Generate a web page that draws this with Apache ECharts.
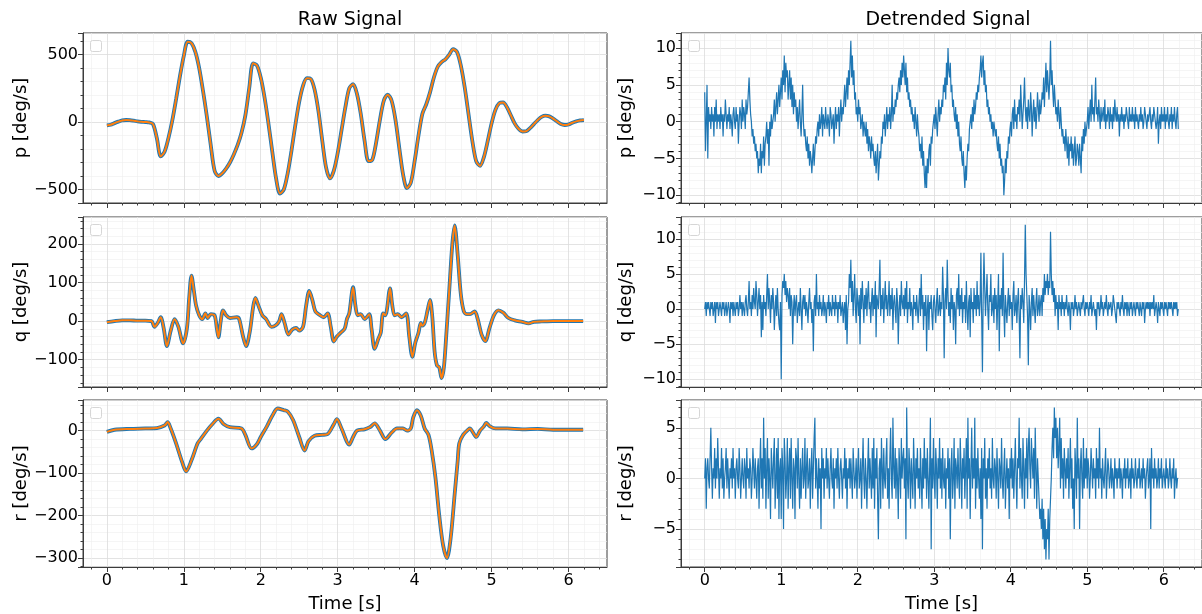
<!DOCTYPE html>
<html>
<head>
<meta charset="utf-8">
<script src="https://cdn.jsdelivr.net/npm/echarts@6.0.0/dist/echarts.min.js"></script>
<style>
html, body { margin: 0; padding: 0; background: #fff; }
#chart { width: 1202px; height: 614px; }
</style>
</head>
<body>
<div id="chart"></div>
<script>
// raw p, sampled every 0.05 s
var rawDt = 0.05;
var pRaw = [-25, -20, -8, 3, 12, 15, 14, 10, 5, 2,
    0, -3, -15, -120, -255, -220, -120, 10, 170, 340,
    490, 595, 585, 520, 400, 230, 40, -170, -360, -400,
    -380, -345, -300, -240, -170, -80, 50, 250, 435, 420,
    330, 180, -10, -220, -420, -530, -500, -380, -210, -20,
    150, 270, 325, 320, 240, 80, -140, -340, -418, -360,
    -230, -60, 110, 250, 280, 210, 60, -140, -290, -280,
    -150, 20, 160, 203, 160, 20, -190, -390, -490, -450,
    -290, -100, 60, 130, 220, 330, 410, 445, 465, 500,
    540, 520, 420, 260, 60, -140, -290, -325, -260, -140,
    -10, 90, 140, 145, 110, 50, -10, -50, -70, -68,
    -45, -15, 15, 38, 47, 42, 25, 5, -15, -22,
    -18, -5, 5, 12, 15];

// raw q, read at the turning points
var qTime = [0.00, 0.10, 0.20, 0.30, 0.40, 0.50, 0.58, 0.62, 0.66, 0.70, 0.74, 0.78, 0.83, 0.88, 0.93, 0.99,
    1.04, 1.07, 1.10, 1.13, 1.16, 1.20, 1.24, 1.28, 1.31, 1.35, 1.40, 1.43, 1.45, 1.48, 1.51, 1.55, 1.60,
    1.69, 1.72, 1.77, 1.81, 1.86, 1.90, 1.93, 1.97, 2.02, 2.07, 2.14, 2.20, 2.24, 2.27, 2.31, 2.36, 2.41,
    2.46, 2.50, 2.55, 2.59, 2.63, 2.67, 2.71, 2.77, 2.82, 2.87, 2.91, 2.95, 2.99, 3.04, 3.09, 3.12, 3.15,
    3.20, 3.23, 3.26, 3.30, 3.35, 3.41, 3.44, 3.48, 3.53, 3.56, 3.59, 3.62, 3.68, 3.71, 3.74, 3.78, 3.83,
    3.89, 3.93, 3.97, 4.01, 4.05, 4.08, 4.10, 4.13, 4.17, 4.20, 4.23, 4.26, 4.29, 4.32, 4.35, 4.38, 4.41,
    4.45, 4.49, 4.52, 4.56, 4.60, 4.64, 4.68, 4.72, 4.78, 4.82, 4.87, 4.92, 4.97, 5.03, 5.09, 5.15, 5.22,
    5.30, 5.40, 5.48, 5.55, 5.65, 5.80, 5.95, 6.10, 6.19];
var qRaw = [-3, 0, 2, 2, 1, 1, 0, -15, -5, 10, -20, -65, -25, 5, -15, -58,
    -20, 60, 118, 80, 40, 15, 5, 20, 8, 18, 15, -20, -42, 0, 28, 15, 8,
    10, 5, -40, -65, -25, 35, 60, 40, 15, 5, -15, -10, 0, 18, -5, -35, -22,
    -18, -25, -15, 40, 78, 55, 25, 15, 10, 20, -15, -53, -40, -30, -20, 5, 20,
    88, 40, 15, 18, 5, 18, -20, -72, -45, -30, 20, 15, 85, 40, 15, 18, 10,
    20, -40, -93, -55, -30, -5, -12, -5, 30, 55, 10, -80, -115, -120, -148, -120, -40,
    80, 200, 248, 170, 70, 25, 18, 18, 25, 5, -35, -52, -20, 15, 28, 22, 8,
    2, -2, -6, -2, -1, 0, 0, 0, 0];

// raw r, read at the turning points
var rTime = [0.00, 0.10, 0.30, 0.50, 0.65, 0.75, 0.79, 0.83, 0.90, 0.98, 1.03, 1.10, 1.18, 1.22, 1.30, 1.37,
    1.45, 1.52, 1.60, 1.75, 1.80, 1.88, 1.95, 2.00, 2.08, 2.15, 2.22, 2.30, 2.35, 2.42, 2.50, 2.57, 2.62,
    2.70, 2.80, 2.87, 2.95, 2.99, 3.05, 3.15, 3.20, 3.25, 3.35, 3.42, 3.48, 3.55, 3.62, 3.70, 3.77, 3.85,
    3.90, 3.95, 3.98, 4.03, 4.08, 4.13, 4.18, 4.22, 4.27, 4.32, 4.37, 4.42, 4.47, 4.52, 4.56, 4.58, 4.63,
    4.70, 4.72, 4.76, 4.80, 4.85, 4.90, 4.93, 4.98, 5.05, 5.20, 5.40, 5.60, 5.80, 6.00, 6.19];
var rRaw = [-3, 2, 4, 5, 6, 12, 20, 5, -30, -75, -96, -70, -30, -20, 0, 15,
    28, 15, 8, 5, -10, -42, -32, -15, 10, 35, 52, 48, 45, 25, -15, -47, -25,
    -12, -10, -8, 15, 27, 5, -33, -15, 0, 3, 8, 17, 0, -20, -5, 5, 5,
    0, 5, 30, 48, 35, 5, -10, -45, -110, -200, -270, -300, -250, -150, -70, -30, -10,
    3, 5, -5, -15, 0, 10, 18, 10, 5, 5, 3, 4, 2, 2, 2];

// detrended signals, sampled every 0.01 s (one row = 0.1 s)
var detDt = 0.01;
var pDet = [4, -4, 0, 5, -5, 2, 0, 1, -1, 2,
    0, 1, -2, 2, 0, 3, -1, 1, 0, 1,
    -1, 2, 0, 1, -2, 1, 0, 3, 1, -1,
    1, 0, 2, -1, 1, 0, -2, 1, 2, 0,
    -1, 2, 0, 1, -3, 0, 2, 1, -1, 3,
    0, 2, 1, -1, 3, 1, 2, 4, 6, 3,
    1, 0, -2, -1, -3, -2, -4, -3, -5, -4,
    -7, -5, -6, -3, -7, -4, -5, -2, -6, -3,
    -2, 0, -3, -1, -6, 0, -2, 1, -1, 0,
    1, 3, 0, 2, 4, 1, 3, 5, 2, 4,
    6, 3, 7, 5, 9, 4, 8, 6, 7, 3,
    5, 7, 3, 6, 2, 5, 1, 4, 2, 3,
    0, 2, -1, 1, 3, 0, -2, 1, 5, 0,
    -2, -1, -3, -4, -2, -5, -3, -6, -4, -5,
    -7, -5, -3, -6, -4, -2, -3, -1, 0, -2,
    1, -1, 0, 2, -2, 1, 0, -1, 2, 0,
    -1, 1, 0, -2, 2, 1, -1, 0, 1, -3,
    0, 2, -1, 1, 0, 2, -2, 1, 3, 0,
    2, 1, 3, 5, 2, 4, 6, 3, 7, 5,
    8, 11, 6, 9, 5, 7, 3, 4, 1, 2,
    0, 3, 1, 2, -1, 0, 1, -2, 0, -1,
    -2, 0, -3, -1, -4, -2, -3, -5, -2, -4,
    -3, -5, -6, -4, -7, -5, -3, -8, -6, -4,
    -5, -2, -3, 0, -1, 1, -2, 0, 2, -1,
    1, 0, 2, -1, 1, 5, 0, 2, 1, 3,
    2, 4, 3, 5, 6, 4, 7, 5, 8, 6,
    9, 7, 5, 8, 4, 6, 3, 4, 2, 3,
    1, 2, 0, 1, -1, 2, 0, -2, 1, -1,
    -2, -4, -3, -5, -2, -6, -4, -7, -9, -6,
    -9, -5, -7, -4, -3, -6, -2, -3, -1, 0,
    1, -1, 2, 0, -2, 1, 3, 0, 2, 1,
    3, 2, 5, 4, 6, 3, 8, 5, 10, 7,
    6, 8, 4, 5, 2, 3, 1, 0, 2, -1,
    1, -2, 0, -3, -4, -2, -5, -6, -4, -7,
    -9, -6, -8, -5, -3, -4, -1, 0, 1, -1,
    2, 0, 3, 1, 2, 4, 3, 5, 4, 6,
    7, 9, 6, 8, 9, 5, 7, 4, 5, 2,
    3, 1, 2, 0, 1, -1, 0, -2, 0, -1,
    -2, -1, -3, -4, -2, -5, -3, -6, -5, -7,
    -6, -10, -8, -5, -7, -4, -5, -2, -3, -1,
    0, -2, 1, 2, -1, 3, 0, 1, -1, 2,
    1, 3, 0, 5, 2, -1, 1, 3, 6, 2,
    0, 2, -1, 3, 1, 0, 4, 2, -2, 1,
    3, 0, 2, -1, 1, 4, 2, 0, 3, 1,
    2, 4, 3, 6, 2, 5, 8, 4, 7, 5,
    3, 6, 11, 5, 7, 4, 2, 5, 3, 1,
    2, 0, 3, 1, -1, 2, 0, -2, -1, -3,
    -2, -4, -1, -3, -5, -2, -6, -3, -4, -2,
    -5, -3, -6, -4, -2, -6, -5, -3, -4, -6,
    -3, -5, -7, -2, -4, -1, -3, 0, -2, -1,
    0, 2, -1, 1, 3, 0, 5, 1, 2, 0,
    3, 6, 1, 2, 0, 3, 1, -1, 2, 0,
    1, 2, 0, 3, -1, 1, 0, 2, 1, -1,
    2, 0, 1, -1, 2, 0, 3, 1, 0, 2,
    0, 1, -2, 1, 0, 2, 0, 1, -1, 1,
    0, 2, 1, 0, -1, 2, 0, 1, 0, 2,
    0, 1, -1, 2, 0, 1, 0, -1, 1, 0,
    2, 0, 1, -1, 0, 2, 1, 0, -1, 1,
    0, 1, 2, 0, -1, 1, 0, 2, 1, 0,
    -1, 0, 2, -3, 0, 1, -1, 2, 0, 1,
    0, 2, -1, 1, 0, 2, 0, -1, 1, 0,
    2, -1, 1, 0, 2, 0, -1, 1, 2, -1];
var qDet = [0, 1, -1, 1, 0, 1, 0, -1, 1, 0,
    1, -1, 0, 1, -2, 1, 0, 1, -1, 0,
    1, 0, -1, 1, 0, 1, -1, 0, 1, -1,
    0, 1, 0, -2, 1, 0, 1, -1, 1, 0,
    -1, 1, 0, 1, -1, 0, 2, 0, 1, -1,
    1, 0, -1, 1, 2, 0, -1, 1, 4, 0,
    1, -1, 2, 0, 3, 1, 0, 4, 2, -1,
    1, 3, 0, 2, -4, 1, -3, 2, 0, 1,
    -1, 2, 5, 0, 3, 1, -2, 2, 0, 3,
    1, -3, 0, 2, -1, 3, 0, -2, -3, 1,
    -10, 2, 4, 3, 5, 2, 4, 1, 3, 2,
    0, 3, -1, 2, 1, -5, 0, 2, -1, 1,
    2, -2, 0, 1, -1, 3, 0, -3, 1, 2,
    0, 2, -1, 1, 0, -2, 1, 3, 0, 1,
    -2, 0, -6, 1, 2, -1, 5, 0, 1, -1,
    2, 0, 1, -1, 0, 2, -1, 1, 0, -2,
    1, 0, 2, -1, 1, 0, -1, 2, 0, 1,
    -1, 2, 0, 1, -2, 1, 0, 2, -1, 0,
    1, -2, 0, 1, -3, 2, -5, 0, 1, 5,
    3, 7, 1, 4, -1, 2, 5, 0, -2, 3,
    1, -1, 2, -5, 3, 0, 4, 1, -2, 2,
    0, 3, -1, 2, 4, 0, 1, -2, 1, 3,
    -1, 2, 0, 4, -4, 2, 1, 0, 3, 7,
    -1, 2, 0, 3, -2, 1, 4, 0, 2, -1,
    1, 4, -1, 2, 0, 3, -3, 1, 2, 0,
    -2, 3, 1, -5, 0, 2, -1, 4, 1, 0,
    2, -1, 3, 0, 4, -2, 1, 0, 3, -1,
    1, 0, -3, 2, 0, 1, -1, 2, 0, -2,
    1, 3, -1, 5, 0, 2, -3, 1, -1, 2,
    -6, 0, 2, -3, 1, 0, 2, -1, -3, 1,
    2, 0, -2, 1, 3, -1, 0, 2, -1, 1,
    0, 6, 2, -7, 1, 3, 0, 7, 2, -1,
    1, -2, 3, 0, 2, -3, 1, 0, -5, 2,
    3, 0, 5, -1, 2, 0, 3, -2, 1, 0,
    2, -2, 4, 0, -3, 1, 2, -4, 3, 0,
    1, -2, 3, 0, 2, -1, 4, 0, 2, -1,
    1, 8, -1, -9, 2, 8, 3, -1, 2, 5,
    0, -3, 2, 1, 5, -1, 0, 2, -2, 3,
    0, 2, -3, 1, 5, -6, 2, 0, 3, -1,
    8, 0, -4, 2, 0, -2, 1, 3, -1, 2,
    0, 1, -3, 2, 4, -1, 0, 2, -2, 1,
    3, -1, -7, 2, 0, 3, 1, -2, 4, 12,
    5, 2, -1, -8, 2, 0, -3, 1, 3, -1,
    2, 0, -2, 1, 3, -1, 0, 2, -1, 1,
    2, -1, 3, 1, 5, 2, 4, 3, 5, 2,
    4, 3, 11, 5, 2, 4, 1, 3, -1, 2,
    0, 1, -3, 2, 0, 1, -1, 2, 0, 1,
    -1, 1, 0, 2, 0, -1, 1, 0, -3, 1,
    0, 1, -1, 0, 2, 0, 1, -1, 0, 1,
    0, -1, 1, 0, 1, 2, 0, -1, 1, 0,
    1, 0, -1, 1, 0, 2, -1, 0, 1, 0,
    -1, 0, -3, 1, 0, 1, -1, 0, 2, 0,
    1, -1, 0, 1, 0, 2, 0, -1, 1, 0,
    0, 1, -1, 0, 2, 1, 0, -1, -2, 1,
    0, 1, 0, -1, 1, 0, 2, 0, -1, 1,
    0, 1, -1, 1, 0, -1, 1, 0, 1, -1,
    0, 1, 0, -1, 1, 0, 1, 0, -1, 1,
    0, -1, 1, 0, 1, -2, 0, 1, 0, 1,
    0, 1, -1, 1, 0, 1, 0, 2, -1, 0,
    1, 0, -2, 1, 0, -1, 1, 0, 1, 0,
    -1, 1, 0, 1, 0, -1, 1, 0, 1, 0,
    1, 0, -1, 1, 0, 1, 0, 1, -1, 0];
var rDet = [0, 2, -3, 1, 2, 0, -1, 2, 5, 1,
    -2, 1, 0, 3, -1, 2, 0, 4, 1, -2,
    1, 0, 3, -1, 2, -2, 0, 1, 3, -1,
    2, 0, -2, 1, 0, 2, -1, 3, 0, 1,
    -2, 1, 2, 0, -1, 3, 1, -2, 0, 2,
    0, -1, 2, 1, -2, 3, 0, 1, -1, 2,
    1, -2, 0, 3, 1, -1, 2, 0, -2, 1,
    2, -3, 1, 4, -1, 2, -2, 6, 0, 3,
    -3, 1, 4, -2, 2, 0, -4, 3, 1, -1,
    2, 4, -3, 0, 3, -2, 4, -4, 1, 2,
    -4, 3, 1, -5, 4, 2, -2, 0, 4, -3,
    1, 3, -2, 4, 0, -3, 2, 1, -4, 3,
    2, -1, 4, 0, -3, 2, -2, 1, 3, -1,
    0, 4, -2, 1, 3, -1, 0, 2, -3, 1,
    3, -2, 1, 4, 6, -1, 2, 0, -3, 2,
    -1, 1, -5, 3, 0, 2, -2, 1, 0, 3,
    -1, 2, 0, -2, 1, 3, 0, -1, 2, -3,
    1, 0, 2, -1, 3, 0, -2, 1, 2, 0,
    -2, 1, 0, 3, -1, 2, -3, 1, 0, 2,
    -1, 2, 0, -2, 3, 1, -1, 0, 2, -2,
    1, 3, -1, 0, 2, -3, 1, 4, 0, -2,
    2, 0, -3, 1, 4, -1, 2, 0, -2, 3,
    -1, 4, -3, 2, 0, 3, -2, -6, 1, 2,
    -3, 4, 1, -2, 3, 0, -1, 2, 4, -2,
    1, -3, 2, 5, 0, -2, 6, 1, -1, 3,
    -2, 2, 0, -4, 3, 1, -2, 4, 0, 2,
    3, -1, 2, -6, 7, 0, -2, 3, 1, -3,
    2, 0, -2, 4, 1, -3, 2, 0, 3, -1,
    1, -2, 3, 0, -3, 2, -1, 4, 0, 2,
    -2, 3, 0, -3, 1, 6, -7, 2, -1, 4,
    0, -2, 3, 1, -3, 2, 0, 4, -1, 2,
    -2, 3, 0, -1, 2, -3, 1, 0, 3, -2,
    2, -6, 1, 3, -2, 0, 4, -3, 2, 1,
    -1, 3, 0, -2, 4, 1, -3, 2, 0, 3,
    -2, 1, 4, -3, 6, 0, 2, -4, 1, 5,
    -1, 2, 0, 6, -3, 2, -1, 3, 0, -2,
    1, -4, 3, -7, 2, 0, 4, -2, 1, -3,
    2, 0, 3, -1, 1, -2, 4, 0, -1, 2,
    1, -2, 3, 0, -3, 2, 1, -1, 4, 0,
    -2, 1, 3, -3, 0, 2, -1, 1, -4, 2,
    0, 3, -1, 2, -2, 1, 4, 0, -3, 2,
    1, 6, -1, 3, 0, -2, 4, 1, -3, 2,
    0, 4, -2, 3, 5, 1, -1, 4, 2, 0,
    3, -2, 5, 1, -3, 2, 0, -2, -4, -3,
    -5, -2, -6, -3, -7, -4, -8, -5, -6, -3,
    -8, -4, -2, 0, 3, 5, 2, 7, 4, 6,
    2, 5, 1, 3, 6, -1, 4, 0, 2, -2,
    3, 1, -1, 2, 0, 3, -2, 1, 4, -1,
    2, -3, 0, -5, 3, 1, -2, 6, 0, 2,
    -5, 1, 3, 0, -2, 4, -1, 2, 0, 3,
    -1, 2, 1, -2, 0, 3, 1, -1, 2, 0,
    1, -2, 3, 0, 2, -1, 5, 0, 1, -2,
    2, 0, -1, 1, 3, -2, 0, 2, 1, -1,
    0, 2, -1, 1, 0, -2, 2, 0, 1, -1,
    1, 0, 2, -1, 1, 0, -2, 1, 0, 2,
    -1, 1, 0, 2, -1, 0, 1, -2, 2, 0,
    1, -1, 0, 2, 0, -1, 1, 0, 2, -1,
    0, 1, -1, 2, 0, 1, -2, 0, 1, 2,
    -1, 0, 2, -5, 3, 0, 1, -1, 2, 0,
    1, -1, 0, 2, -1, 1, 0, 2, -1, 0,
    1, 0, -1, 2, 0, 1, -1, 0, 2, 0,
    -1, 1, 0, 2, -2, 0, 1, -1, 0, 0];

var xTicks = [0, 1, 2, 3, 4, 5, 6];

function uniform(vals, dt) {
    return vals.map(function(v, i) { return [+(i * dt).toFixed(3), v]; });
}
function pairs(ts, vals) {
    return ts.map(function(t, i) { return [t, vals[i]]; });
}

var FONT = 'DejaVu Sans';
var BLUE = '#1f77b4', ORANGE = '#ff7f0e', SPINE = '#3c3c3c';

// layout of the 3x2 panels
var colLeft = [83, 681];
var rowTop = [33, 217, 400];
var panelW = 524, panelH = 170;

var panels = [
    { row: 0, col: 0, name: 'p [deg/s]', min: -600, max: 660, split: 2, gap: 52 },
    { row: 0, col: 1, name: 'p [deg/s]', min: -11.05, max: 12.05, split: 4, gap: 46 },
    { row: 1, col: 0, name: 'q [deg/s]', min: -171, max: 270, split: 4, gap: 52 },
    { row: 1, col: 1, name: 'q [deg/s]', min: -11.1, max: 13.1, split: 4, gap: 46 },
    { row: 2, col: 0, name: 'r [deg/s]', min: -321, max: 72, split: 4, gap: 52 },
    { row: 2, col: 1, name: 'r [deg/s]', min: -8.75, max: 7.75, split: 4, gap: 46 }
];

function minus(v) { return String(v).replace('-', '\u2212'); }

var grids = [], xAxes = [], yAxes = [], graphics = [];
panels.forEach(function(pn, k) {
    var bottom = pn.row === 2;
    grids.push({
        left: colLeft[pn.col], top: rowTop[pn.row], width: panelW, height: panelH,
        show: true, borderColor: SPINE, borderWidth: 1, backgroundColor: 'transparent'
    });
    xAxes.push({
        type: 'value', gridIndex: k, min: -0.31, max: 6.5, splitNumber: 7,
        axisLine: { onZero: false, lineStyle: { color: SPINE, width: 1 } },
        axisTick: { show: true, length: 5, customValues: xTicks, lineStyle: { color: SPINE } },
        minorTick: { show: true, splitNumber: 5, length: 2.5, lineStyle: { color: SPINE } },
        axisLabel: {
            show: bottom, showMinLabel: false, showMaxLabel: false, margin: 6,
            fontSize: 16, fontFamily: FONT, color: '#000'
        },
        splitLine: { show: true, lineStyle: { color: '#dcdcdc', width: 0.8 } },
        minorSplitLine: { show: true, lineStyle: { color: '#efefef', width: 0.6 } },
        name: bottom ? 'Time [s]' : '', nameLocation: 'middle', nameGap: 28,
        nameTextStyle: { fontSize: 18, fontFamily: FONT, color: '#000' }
    });
    yAxes.push({
        type: 'value', gridIndex: k, min: pn.min, max: pn.max, splitNumber: pn.split,
        axisLine: { show: true, onZero: false, lineStyle: { color: SPINE, width: 1 } },
        axisTick: { show: true, length: 5, lineStyle: { color: SPINE } },
        minorTick: { show: true, splitNumber: 5, length: 2.5, lineStyle: { color: SPINE } },
        axisLabel: {
            showMinLabel: false, showMaxLabel: false, margin: 5,
            fontSize: 16, fontFamily: FONT, color: '#000', formatter: minus
        },
        splitLine: { show: true, lineStyle: { color: '#dcdcdc', width: 0.8 } },
        minorSplitLine: { show: true, lineStyle: { color: '#efefef', width: 0.6 } },
        name: pn.name, nameLocation: 'middle', nameGap: pn.gap, nameRotate: 90,
        nameTextStyle: { fontSize: 18, fontFamily: FONT, color: '#000' }
    });
    // empty legend box in each panel
    graphics.push({
        type: 'rect', left: colLeft[pn.col] + 7, top: rowTop[pn.row] + 7, z: 100,
        shape: { width: 11, height: 11, r: 2 },
        style: { fill: 'rgba(255,255,255,0.8)', stroke: '#d6d6d6', lineWidth: 1 }
    });
});

var rawData = [uniform(pRaw, rawDt), pairs(qTime, qRaw), pairs(rTime, rRaw)];
var detData = [pDet, qDet, rDet];

var series = [];
[0, 1, 2].forEach(function(r) {
    var k = r * 2;
    series.push({
        type: 'line', xAxisIndex: k, yAxisIndex: k, data: rawData[r], smooth: 0.3,
        showSymbol: false, lineStyle: { color: BLUE, width: 3.8 }, z: 2
    });
    series.push({
        type: 'line', xAxisIndex: k, yAxisIndex: k, data: rawData[r], smooth: 0.3,
        showSymbol: false, lineStyle: { color: ORANGE, width: 2 }, z: 3
    });
    series.push({
        type: 'line', xAxisIndex: k + 1, yAxisIndex: k + 1, data: uniform(detData[r], detDt),
        showSymbol: false, sampling: null, lineStyle: { color: BLUE, width: 1.2 }, z: 2
    });
});

var chart = echarts.init(document.getElementById('chart'), null, { renderer: 'canvas' });
chart.setOption({
    animation: false,
    backgroundColor: '#fff',
    title: [
        { text: 'Raw Signal', left: 345, top: 6, textAlign: 'center',
          textStyle: { fontSize: 19, fontWeight: 'normal', fontFamily: FONT, color: '#000' } },
        { text: 'Detrended Signal', left: 943, top: 6, textAlign: 'center',
          textStyle: { fontSize: 19, fontWeight: 'normal', fontFamily: FONT, color: '#000' } }
    ],
    grid: grids,
    xAxis: xAxes,
    yAxis: yAxes,
    graphic: graphics,
    series: series
});
</script>
</body>
</html>
